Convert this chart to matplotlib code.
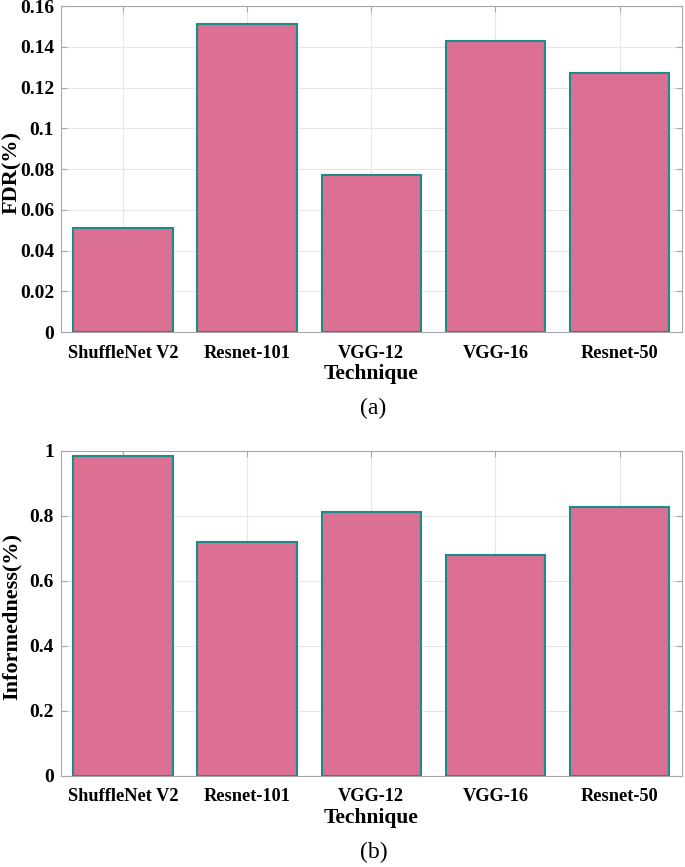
import numpy as np
import matplotlib
matplotlib.use("Agg")
import matplotlib.pyplot as plt

# ------------------------------------------------------------------ #
#  Données                                                            #
# ------------------------------------------------------------------ #
techniques = ["ShuffleNet V2", "Resnet-101", "VGG-12", "VGG-16", "Resnet-50"]
fdr = [0.051, 0.151, 0.077, 0.143, 0.127]
informedness = [0.983, 0.720, 0.812, 0.680, 0.828]

plt.rcParams['font.family'] = ['Liberation Serif', 'DejaVu Serif']

COULEUR_BARRE = '#DB7093'
COULEUR_BORD = '#1E8A8A'
COULEUR_AXE = '#A6A6A6'

fig = plt.figure(figsize=(6.85, 8.67), dpi=100)
ax1 = fig.add_axes([0.089, 0.617, 0.906, 0.376])
ax2 = fig.add_axes([0.089, 0.105, 0.906, 0.375])

def dessiner(ax, valeurs, ylabel, ylim, yticks, yticklabels):
    x = np.arange(1, len(techniques) + 1)
    ax.set_axisbelow(True)
    ax.grid(True, color='#E6E6E6', lw=0.8)
    ax.bar(x, valeurs, width=0.8, color=COULEUR_BARRE,
           edgecolor=COULEUR_BORD, linewidth=1.5, zorder=2)
    ax.set_xlim(0.5, 5.5)
    ax.set_ylim(*ylim)
    ax.set_xticks(x)
    ax.set_xticklabels(techniques, fontsize=13.2, fontweight='bold')
    ax.set_yticks(yticks)
    ax.set_yticklabels(yticklabels, fontsize=14, fontweight='bold')
    ax.tick_params(direction='in', top=True, right=True, length=4,
                   color=COULEUR_AXE)
    ax.tick_params(axis='x', pad=9)
    ax.tick_params(axis='y', pad=5)
    for s in ax.spines.values():
        s.set_color(COULEUR_AXE)
        s.set_linewidth(0.8)
    ax.set_xlabel("Technique", fontsize=15.5, fontweight='bold', labelpad=2)
    ax.set_ylabel(ylabel, fontsize=16, fontweight='bold', va='center')
    ax.yaxis.set_label_coords(-0.079, 0.49)

dessiner(ax1, fdr, "FDR(%)", (0, 0.16),
         np.arange(0, 0.161, 0.02),
         ["0", "0.02", "0.04", "0.06", "0.08", "0.1", "0.12", "0.14", "0.16"])
dessiner(ax2, informedness, "Informedness(%)", (0, 1),
         np.arange(0, 1.01, 0.2),
         ["0", "0.2", "0.4", "0.6", "0.8", "1"])

fig.text(0.545, 1 - 408 / 867, "(a)", ha='center', va='center', fontsize=17)
fig.text(0.545, 1 - 852 / 867, "(b)", ha='center', va='center', fontsize=17)

fig.savefig("out.png", dpi=100)
